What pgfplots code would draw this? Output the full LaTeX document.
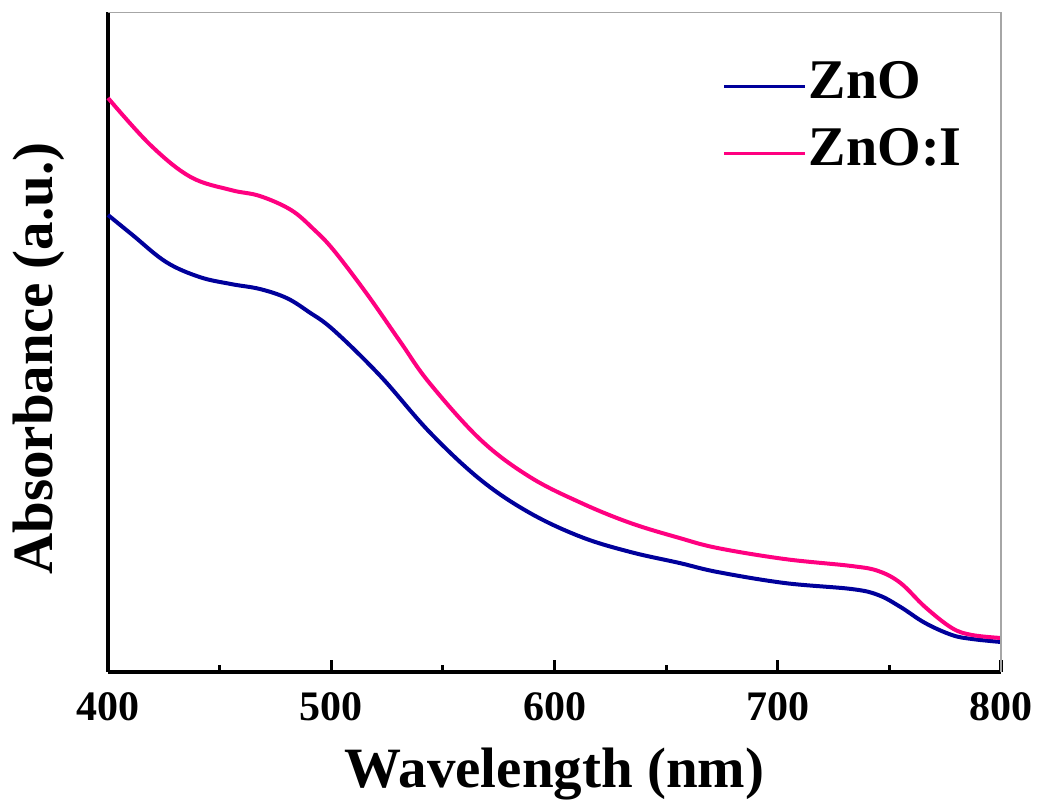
\documentclass[border=0pt]{standalone}
\usepackage{fontspec}
\setmainfont{Liberation Serif}
\usepackage{pgfplots}
\pgfplotsset{compat=1.18}
\definecolor{znoblue}{RGB}{0,0,155}
\definecolor{znopink}{RGB}{255,0,128}
\begin{document}
\begin{tikzpicture}
\begin{axis}[
  scale only axis,
  width=446.5pt, height=329.5pt,
  xmin=400, xmax=800, ymin=0.5, ymax=659.5,
  axis lines*=left,
  axis line style={black, line width=2pt},
  xtick={400,500,600,700,800},
  minor xtick={450,550,650,750},
  ytick=\empty,
  tick align=inside,
  major tick length=6pt,
  minor tick length=3.5pt,
  every tick/.style={black, line width=1.6pt},
  /pgf/number format/assume math mode=true,
  xticklabel style={font=\fontsize{21}{21}\selectfont\bfseries, inner sep=0pt, anchor=north, yshift=-10.5pt},
  xlabel={Wavelength (nm)},
  ylabel={Absorbance (a.u.)},
  xlabel style={font=\fontsize{28.5}{28.5}\selectfont\bfseries, inner sep=0pt, at={(axis description cs:0.5,0)}, anchor=north, yshift=-38pt},
  ylabel style={font=\fontsize{28.5}{28.5}\selectfont\bfseries, inner sep=0pt, at={(axis description cs:-0.0616,0.475)}, anchor=base},
  legend style={draw=none, fill=none, at={(rel axis cs:0.688,0.845)}, anchor=west,
    font=\fontsize{28}{28}\selectfont\bfseries, inner sep=0pt, row sep=11.5pt,
    nodes={inner sep=1pt}},
  legend cell align=left,
  legend image code/.code={\draw[#1, line width=1.6pt] (0pt,-2.75pt) -- (40.5pt,-2.75pt);},
  clip=false,
]
\addplot[znoblue, line width=2pt, smooth, tension=0.6] coordinates {
(400,457) (411,437) (426,410) (441,395) (455,388) (468,383) (480,374) (490,360) (501,342)
(522,296) (544,240) (567,192) (589,159) (612,135) (634,120) (656,109) (673,100)
(703,89) (733,83) (745,77) (755,65) (766,49) (778,37) (787,33) (800,30)};
\addlegendentry{ZnO}
\addplot[znopink, line width=2pt, smooth, tension=0.6] coordinates {
(400,574) (419,527) (437,495) (455,482) (468,476) (482,462) (492,443) (501,422)
(516,378) (531,330) (544,289) (567,232) (589,195) (612,169) (634,149)
(656,134) (673,124) (703,113) (733,106) (745,101) (755,89) (766,65) (778,44)
(787,37) (800,34)};
\addlegendentry{ZnO:I}
\draw[gray!70, line width=0.75pt] (rel axis cs:0,1) -- (rel axis cs:1,1) -- (rel axis cs:1,0);
\end{axis}
\pgfresetboundingbox
\path (-54pt,-65.75pt) rectangle (465pt,335.75pt);
\end{tikzpicture}
\end{document}
